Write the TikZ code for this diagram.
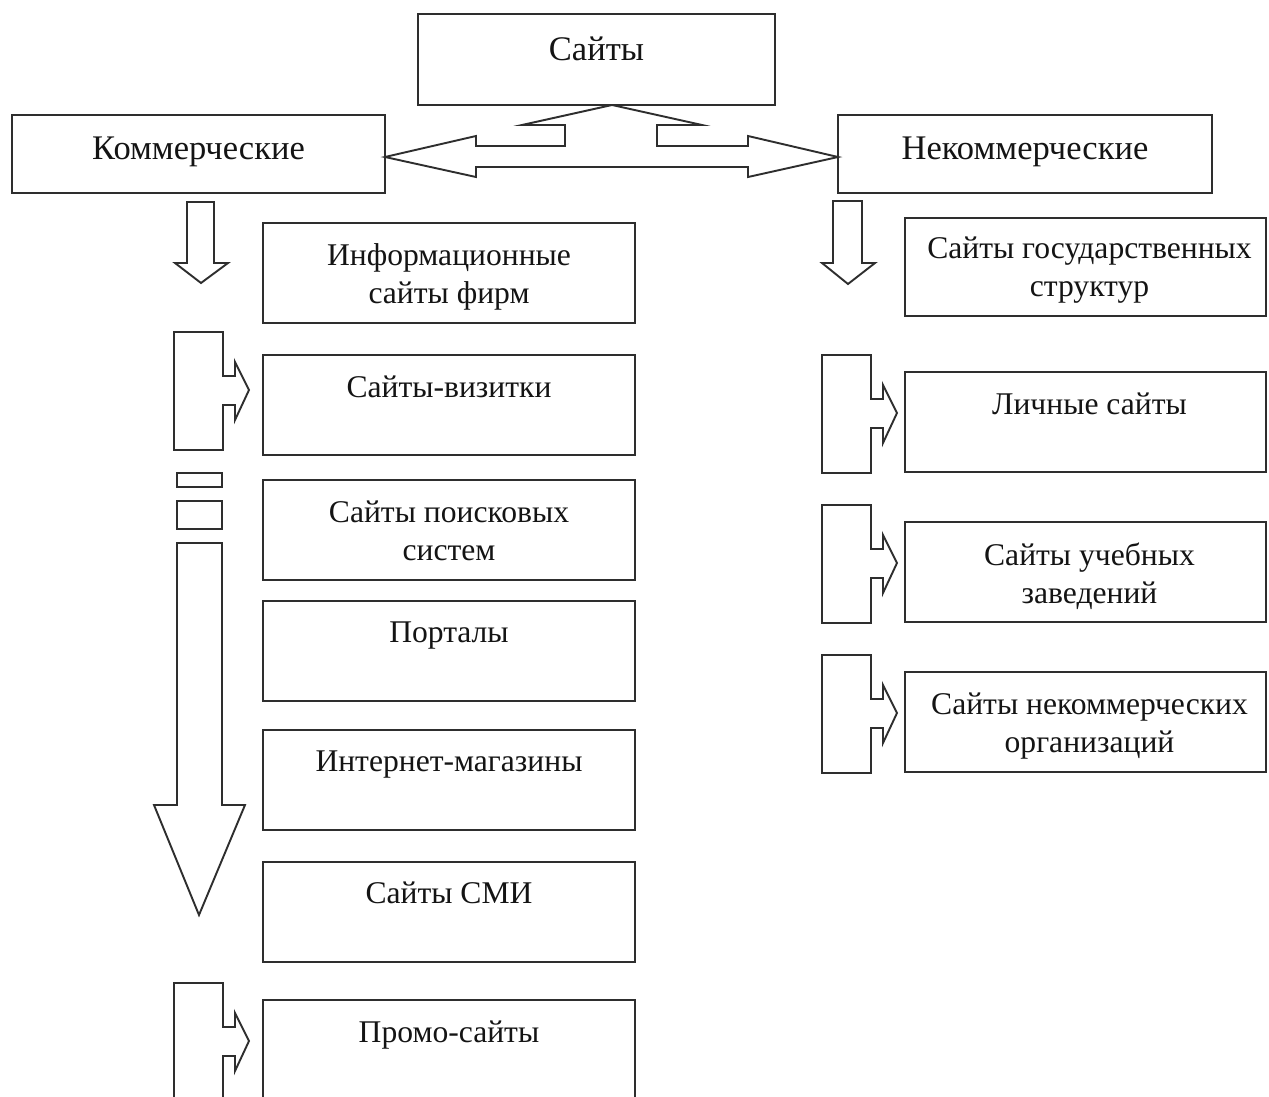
\documentclass[tikz,border=0pt]{standalone}
\usepackage{fontspec}
\setmainfont{Liberation Serif}
\newcommand\brkarrow[2]{\draw[ln, shift={(#1,#2)}] (0,0) -- (49,0) -- (49,44) -- (61,44) -- (61,30) -- (75,58) -- (61,88) -- (61,73) -- (49,73) -- (49,118) -- (0,118) -- cycle;}
\begin{document}
\begin{tikzpicture}[x=1pt,y=-1pt]
\tikzset{
 ln/.style={draw=black!82, line width=1.9pt, line join=miter},
 box/.style={ln, rectangle, inner sep=0pt, outer sep=0pt},
 lbl/.style={font=\fontsize{31.6}{38}\selectfont, align=center, inner sep=0pt, text=black!92, anchor=north},
 biglbl/.style={lbl, font=\fontsize{34.5}{40}\selectfont},
}
\useasboundingbox (0,0) rectangle (1269,1097);
\fill[white] (0,0) rectangle (1269,1097);

% top level
\node[box, minimum width=357pt, minimum height=91pt] (top) at (596.5,59.5) {};
\node[biglbl] (ttop) at ([yshift=-23pt]top.north) {Сайты};
\node[box, minimum width=373pt, minimum height=78pt] (kom) at (198.5,154) {};
\node[biglbl] (tkom) at ([yshift=-22pt]kom.north) {Коммерческие};
\node[box, minimum width=374pt, minimum height=78pt] (nekom) at (1025,154) {};
\node[biglbl] (tnekom) at ([yshift=-22pt]nekom.north) {Некоммерческие};

% top double block arrow
\draw[ln, fill=white] (612,105) -- (522,125) -- (565,125) -- (565,146) -- (476,146) -- (476,136) -- (385,157) -- (476,177) -- (476,167) -- (748,167) -- (748,177) -- (838,157) -- (748,136) -- (748,146) -- (657,146) -- (657,125) -- (702,125) -- cycle;

% left column boxes
\node[box, minimum width=372pt, minimum height=100pt] (l1) at (449,273) {};
\node[lbl] (tl1) at ([yshift=-20pt]l1.north) {Информационные\\сайты фирм};
\node[box, minimum width=372pt, minimum height=100pt] (l2) at (449,405) {};
\node[lbl] (tl2) at ([yshift=-21pt]l2.north) {Сайты-визитки};
\node[box, minimum width=372pt, minimum height=100pt] (l3) at (449,530) {};
\node[lbl] (tl3) at ([yshift=-21pt]l3.north) {Сайты поисковых\\систем};
\node[box, minimum width=372pt, minimum height=100pt] (l4) at (449,651) {};
\node[lbl] (tl4) at ([yshift=-21pt]l4.north) {Порталы};
\node[box, minimum width=372pt, minimum height=100pt] (l5) at (449,780) {};
\node[lbl] (tl5) at ([yshift=-21pt]l5.north) {Интернет-магазины};
\node[box, minimum width=372pt, minimum height=100pt] (l6) at (449,912) {};
\node[lbl] (tl6) at ([yshift=-20pt]l6.north) {Сайты СМИ};
\node[box, minimum width=372pt, minimum height=100pt] (l7) at (449,1050) {};
\node[lbl] (tl7) at ([yshift=-21pt]l7.north) {Промо-сайты};

% right column boxes
\node[box, minimum width=361pt, minimum height=98pt] (r1) at (1085.5,267) {};
\node[lbl] (tr1) at ([yshift=-19pt,xshift=4pt]r1.north) {Сайты государственных\\структур};
\node[box, minimum width=361pt, minimum height=100pt] (r2) at (1085.5,422) {};
\node[lbl] (tr2) at ([yshift=-21pt,xshift=4pt]r2.north) {Личные сайты};
\node[box, minimum width=361pt, minimum height=100pt] (r3) at (1085.5,572) {};
\node[lbl] (tr3) at ([yshift=-21pt,xshift=4pt]r3.north) {Сайты учебных\\заведений};
\node[box, minimum width=361pt, minimum height=100pt] (r4) at (1085.5,722) {};
\node[lbl] (tr4) at ([yshift=-21pt,xshift=4pt]r4.north) {Сайты некоммерческих\\организаций};

% left arrows
\draw[ln] (187,202) -- (214,202) -- (214,263) -- (228,263) -- (201,283) -- (175,263) -- (187,263) -- cycle;
\brkarrow{174}{332}
\draw[ln] (177,473) rectangle (222,487);
\draw[ln] (177,501) rectangle (222,529);
\draw[ln] (177,543) -- (222,543) -- (222,805) -- (245,805) -- (199,915) -- (154,805) -- (177,805) -- cycle;
\draw[ln, shift={(174,983)}] (0,130) -- (0,0) -- (49,0) -- (49,44) -- (61,44) -- (61,30) -- (75,58) -- (61,88) -- (61,73) -- (49,73) -- (49,130);

% right arrows
\draw[ln] (833,201) -- (862,201) -- (862,263) -- (875,263) -- (848,284) -- (822,263) -- (833,263) -- cycle;
\brkarrow{822}{355}
\brkarrow{822}{505}
\brkarrow{822}{655}
\end{tikzpicture}
\end{document}
